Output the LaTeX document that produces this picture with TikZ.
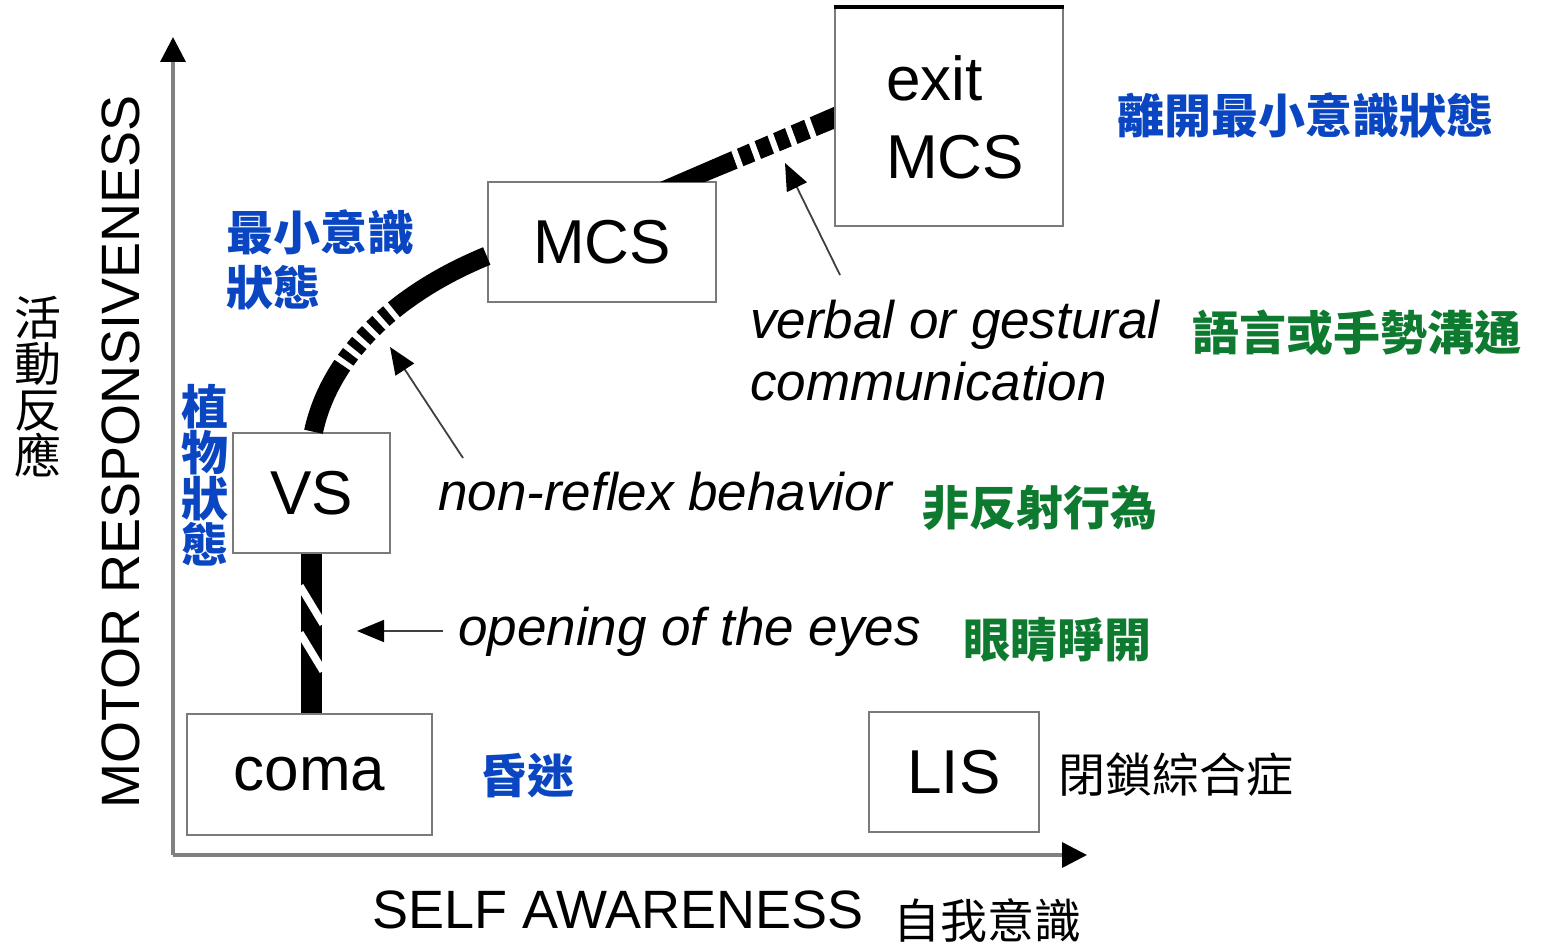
\documentclass[tikz,border=0pt]{standalone}
\usepackage{fontspec}
\setmainfont{Liberation Sans}
\newfontfamily\cjk{Noto Sans CJK TC}
\usetikzlibrary{arrows.meta}
\definecolor{lblblue}{HTML}{0A46C2}
\definecolor{lblgreen}{HTML}{0E7A30}
\definecolor{boxgray}{HTML}{7A7A7A}
\definecolor{axisgray}{HTML}{808080}

\begin{document}
\begin{tikzpicture}[x=1pt,y=-1pt,
  statebox/.style={draw=boxgray,line width=2.5pt,inner sep=0pt,
    font=\fontsize{62pt}{78pt}\selectfont},
  note/.style={font=\fontsize{53pt}{64pt}\selectfont\itshape,anchor=base west,inner sep=0pt},
  zhb/.style={font=\fontsize{47pt}{55pt}\selectfont\cjk\bfseries,inner sep=0pt},
  zhr/.style={font=\fontsize{47pt}{55pt}\selectfont\cjk,inner sep=0pt},
  zhcol/.style={font=\fontsize{47pt}{46pt}\selectfont\cjk,inner sep=0pt,align=center},
  pointer/.style={draw=black!75,line width=1.8pt,-{Triangle[length=27pt,width=22pt,color=black]}},
  axis/.style={draw=axisgray,line width=3.5pt,-{Triangle[length=25pt,width=25pt,color=black]}},
  track/.style={line width=20pt,line cap=butt}
]
\useasboundingbox (0,0) rectangle (1541,947);

% axes
\coordinate (O) at (173,855);
\coordinate (ytip) at (173,37);
\coordinate (xtip) at (1087,855);
\draw[axis] (O) -- (ytip);
\draw[axis] (O) -- (xtip);
\node[font=\fontsize{54pt}{60pt}\selectfont] (xlabel) at (618,910) {SELF AWARENESS};
\node[rotate=90,font=\fontsize{54pt}{60pt}\selectfont] (ylabel) at (121,452) {MOTOR RESPONSIVENESS};

% states
\node[statebox,minimum width=245pt,minimum height=121pt] (coma) at (309.5,774.5) {coma};
\node[statebox,minimum width=157pt,minimum height=120pt] (VS) at (311.5,493) {VS};
\node[statebox,minimum width=228pt,minimum height=120pt] (MCS) at (602,242) {MCS};
\node[statebox,minimum width=228pt,minimum height=218pt,align=left] (exit) at (949,117)
  {\hspace*{12pt}exit\\\hspace*{12pt}MCS};
\draw[line width=4pt] (exit.north west) -- (exit.north east);
\node[statebox,minimum width=170pt,minimum height=120pt] (LIS) at (954,772) {LIS};

% coma -> VS track with two slanted breaks
\draw[track,line width=21pt] (coma.north -| VS.south) -- (VS.south);
\draw[white,line width=7.5pt] (300,586) -- (323,624);
\draw[white,line width=7.5pt] (300,633) -- (323,671);

% VS -> MCS track, dashed in the middle
\draw[track,line width=19pt,
  dash pattern=on 73pt off 6pt on 8pt off 6pt on 8pt off 6pt on 8pt off 6pt on 8pt off 6pt on 8pt off 6pt on 300pt]
  ([xshift=2pt]VS.north) .. controls (327,368) and (380,300) .. ([yshift=-14pt]MCS.west);

% MCS -> exit MCS tapered track
\coordinate (w0) at (660,182);
\coordinate (w1) at (705,182);
\coordinate (w2) at (exit.west |- 0,129);
\coordinate (w3) at (exit.west |- 0,107);
\fill (w0) -- (w1) -- (w2) -- (w3) -- cycle;
\foreach \gx in {735.5,753.5,772.5,790.5,810}
  \draw[white,line width=6pt] ({\gx-5.5},{181-0.36*(\gx-660)-15}) -- ({\gx+5.5},{181-0.36*(\gx-660)+15});

% annotations
\node[note] (eyes) at (458,645) {opening of the eyes};
\coordinate (eyetail) at (443,631);
\coordinate (eyetip) at (357,631);
\draw[pointer] (eyetail) -- (eyetip);

\node[note] (nonreflex) at (438,510) {non-reflex behavior};
\coordinate (nrtail) at (463,458);
\coordinate (nrtip) at (390,347);
\draw[pointer] (nrtail) -- (nrtip);

\node[note] (verbal) at (750,338) {verbal or gestural};
\node[note] (comm) at (750,400) {communication};
\coordinate (vbtail) at (840,275);
\coordinate (vbtip) at (785,163);
\draw[pointer] (vbtail) -- (vbtip);

% Chinese labels
\node[zhb,text=lblblue] (zhexit) at (1305,115) {離開最小意識狀態};
\node[zhb,text=lblblue,align=left,anchor=west] (zhmcs) at (226,260) {最小意識\\狀態};
\node[zhcol,text=lblblue,font=\fontsize{47pt}{46pt}\selectfont\cjk\bfseries] (zhvs) at (205,475) {植\\物\\狀\\態};
\node[zhcol] (zhmotor) at (38,387) {活\\動\\反\\應};
\node[zhb,text=lblgreen] (zhverbal) at (1357,333) {語言或手勢溝通};
\node[zhb,text=lblgreen] (zhnonreflex) at (1040,508) {非反射行為};
\node[zhb,text=lblgreen] (zheyes) at (1057,640) {眼睛睜開};
\node[zhb,text=lblblue] (zhcoma) at (527,776) {昏迷};
\node[zhr] (zhlis) at (1176,775) {閉鎖綜合症};
\node[zhr] (zhself) at (987,920) {自我意識};
\end{tikzpicture}
\end{document}
